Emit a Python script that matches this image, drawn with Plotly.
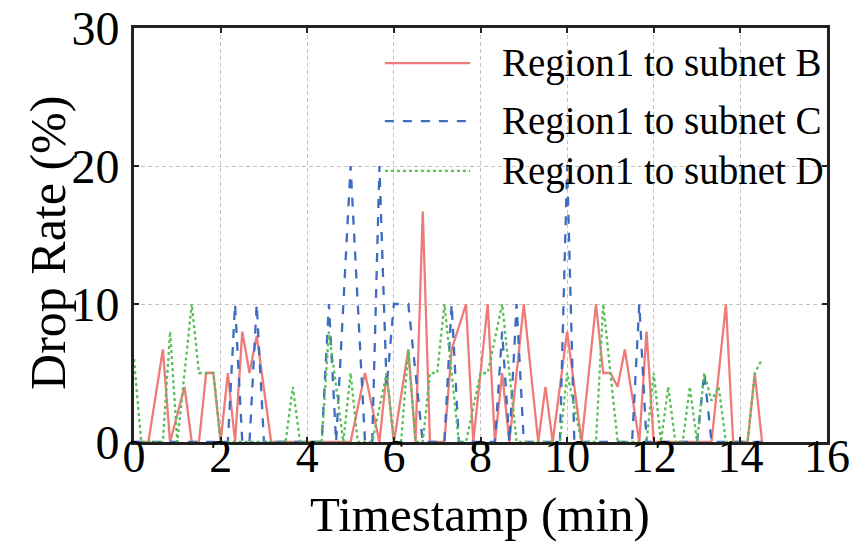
import plotly.graph_objects as go

# Drop-rate samples, one every 10 s; times in seconds, rates in percent.
t_b = [0, 20, 40, 50, 70, 80, 90, 100, 110, 120, 130, 140, 150, 160, 170, 190,
       300, 320, 340, 350, 360, 380, 390, 400, 410, 430, 440, 460, 470, 490, 500,
       510, 520, 540, 560, 570, 580, 600, 620, 640, 650, 660, 670, 680, 700, 710,
       720, 800, 820, 830, 850, 860, 870]
rate_b = [0, 0, 6.7, 0, 4, 0, 0, 5, 5, 0, 5, 0, 8, 5, 7.7, 0,
          0, 5, 0, 5, 0, 6.7, 0, 16.7, 0, 0, 6.7, 10, 0, 10, 0,
          5, 0, 10, 0, 4, 0, 8, 0, 10, 5, 5, 4, 6.7, 0, 8,
          0, 0, 10, 0, 0, 5, 0]

t_c = [0, 130, 140, 150, 160, 170, 180, 260, 270, 280, 300, 320, 330, 340,
       350, 360, 380, 400, 430, 440, 450, 500, 510, 520, 530, 540, 590, 600,
       610, 690, 700, 710, 780, 790, 800, 870]
rate_c = [0, 0, 10, 0, 0, 10, 0, 0, 10, 0, 20, 0, 0, 20,
          4, 10, 10, 0, 0, 10, 0, 0, 8, 0, 10, 0, 0, 20,
          0, 0, 10, 0, 0, 5, 0, 0]

t_d = [0, 10, 40, 50, 60, 80, 90, 110, 120, 210, 220, 230, 260, 270, 290,
       300, 310, 330, 350, 360, 370, 380, 390, 400, 410, 420, 430, 450, 460,
       480, 490, 510, 520, 530, 590, 600, 620, 640, 650, 670, 710, 720, 730,
       740, 750, 760, 770, 780, 790, 800, 810, 820, 850, 860, 870]
rate_d = [6, 0, 0, 8, 0, 10, 5, 5, 0, 0, 4, 0, 0, 8, 0,
          5, 0, 0, 5, 0, 0, 6.7, 0, 0, 5, 5, 10, 0, 0,
          5, 5, 10, 5, 0, 0, 5, 0, 0, 10, 0, 0, 5, 0,
          4, 0, 0, 4, 0, 5, 3, 4, 0, 0, 5, 6]

x_ticks = [0, 2, 4, 6, 8, 10, 12, 14, 16]
y_ticks = [0, 10, 20, 30]

series = [
    ("Region1 to subnet B", t_b, rate_b, "#ee7b78", "solid", "x"),
    ("Region1 to subnet C", t_c, rate_c, "#3d6cc0", "dash", "x"),
    ("Region1 to subnet D", t_d, rate_d, "#58bf58", "dot", "x2"),
]

SERIF = "Liberation Serif, Times New Roman, serif"

fig = go.Figure()
for name, t, r, color, dash, xa in series:
    fig.add_trace(go.Scatter(
        x=[s / 60 for s in t], y=r, mode="lines", name=name,
        xaxis=xa, yaxis="y",
        line=dict(color=color, width=2.3, dash=dash),
        showlegend=False,
    ))

# Legend: sample line plus label, stacked in the upper right of the axes.
legend_y = [0.915, 0.775, 0.655]
for (name, _, _, color, dash, _), ly in zip(series, legend_y):
    fig.add_shape(type="line", xref="paper", yref="paper",
                  x0=0.362, x1=0.485, y0=ly, y1=ly,
                  line=dict(color=color, width=2.3, dash=dash))
    fig.add_annotation(text=name, xref="paper", yref="paper",
                       x=0.528, y=ly, xanchor="left", yanchor="middle",
                       showarrow=False,
                       font=dict(family=SERIF, size=39, color="black"))

# Axis titles
fig.add_annotation(text="Timestamp (min)", xref="paper", yref="paper",
                   x=0.499, y=-0.176, xanchor="center", yanchor="middle",
                   showarrow=False,
                   font=dict(family=SERIF, size=49, color="black"))
fig.add_annotation(text="Drop Rate (%)", xref="paper", yref="paper",
                   x=-0.124, y=0.481, xanchor="center", yanchor="middle",
                   textangle=-90, showarrow=False,
                   font=dict(family=SERIF, size=50, color="black"))

frame = dict(
    showline=True, linecolor="#222222", linewidth=3, mirror="ticks",
    ticks="inside", ticklen=5, tickwidth=1.5, tickcolor="#222222",
    showgrid=True, gridcolor="#c4c4c4", gridwidth=1, griddash="4px,3px",
    zeroline=False, automargin=False,
    tickfont=dict(family=SERIF, size=48, color="black"),
)

# Main x axis draws the frame and grid; a companion axis set just above
# the frame carries the tick numbers so they sit tight under the spine.
fig.update_layout(
    xaxis=dict(range=[0, 16], tickvals=x_ticks, showticklabels=False,
               **frame),
    xaxis2=dict(range=[0, 16], tickvals=x_ticks, overlaying="x",
                anchor="free", position=0.042, side="bottom",
                showline=False, showgrid=False, zeroline=False,
                ticks="", automargin=False,
                tickfont=dict(family=SERIF, size=46, color="black")),
    yaxis=dict(range=[0, 30], tickvals=y_ticks, ticklabelstandoff=2,
               **frame),
    width=858, height=548,
    margin=dict(l=134, r=31, t=28, b=106),
    paper_bgcolor="white", plot_bgcolor="white",
)

fig.write_html("out.html")
